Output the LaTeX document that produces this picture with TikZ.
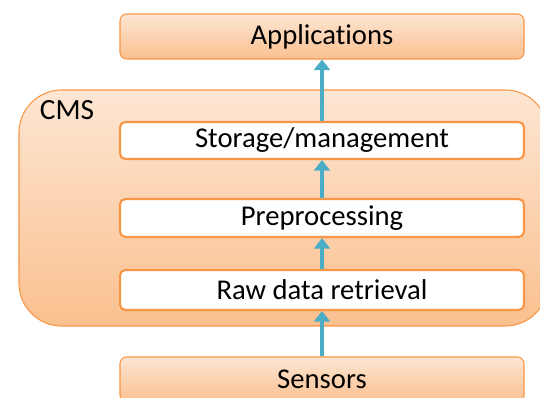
\documentclass[tikz,border=0pt]{standalone}
\usepackage{fontspec}
\setmainfont{Carlito}[Ligatures=NoCommon, RawFeature={-liga;-calt;-clig}]
\usepackage{tikz}
\usetikzlibrary{arrows.meta}

\definecolor{cmsorange}{HTML}{F79646}
\definecolor{cmslight}{HTML}{FDE6D3}
\definecolor{cmsdark}{HTML}{FAC08F}
\definecolor{flowblue}{HTML}{4BACC6}

\tikzset{
  outerbox/.style={draw=cmsorange, line width=0.8pt, rounded corners=5pt,
    top color=cmslight, bottom color=cmsdark,
    minimum width=303pt, font=\fontsize{21.5}{24}\selectfont},
  layerbox/.style={draw=cmsorange, line width=1.6pt, fill=white, rounded corners=4pt,
    minimum width=303pt, font=\fontsize{21.5}{24}\selectfont},
  flow/.style={-{Triangle[length=8pt,width=12pt]}, line width=3pt, flowblue}
}

\begin{document}
\begin{tikzpicture}[x=0.75pt, y=0.75pt]

      \useasboundingbox (0,0) rectangle (540,398);

      % CMS の外枠
      \begin{scope}
        \clip (0,0) rectangle (540,398);
        \draw[draw=cmsorange, line width=0.8pt, rounded corners=32pt,
              top color=cmslight, bottom color=cmsdark]
          (19,72) rectangle (548,308);
      \end{scope}
      \node[anchor=center, font=\fontsize{22}{24}\selectfont] (cms) at (67,288) {CMS};

      % 上端と下端のボックス
      \node[outerbox, minimum height=33.75pt] (apps) at (322,361.5) {Applications};
      \node[outerbox, minimum height=33.75pt] (sensors) at (322,18.5) {Sensors};

      % CMS の中の三つの層
      \node[layerbox, minimum height=27.75pt] (storage) at (322,257.5) {Storage/management};
      \node[layerbox, minimum height=28.5pt] (prep) at (322,180) {Preprocessing};
      \node[layerbox, minimum height=30pt] (raw) at (322,108) {Raw data retrieval};

      % データの流れ
      \draw[flow] (sensors) -- (raw);
      \draw[flow] (raw) -- (prep);
      \draw[flow] (prep) -- (storage);
      \draw[flow] (storage) -- (apps);

    \end{tikzpicture}
\end{document}
